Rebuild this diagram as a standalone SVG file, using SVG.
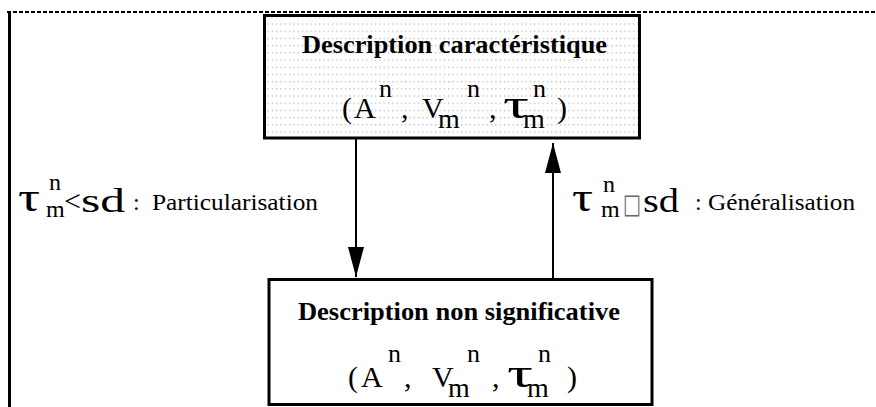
<svg xmlns="http://www.w3.org/2000/svg" width="876" height="407" viewBox="0 0 876 407">
<style>
.t{font-family:"Liberation Serif","Times New Roman","DejaVu Serif",serif;fill:#000}
.b{font-weight:bold;font-size:26px}
.big{font-size:30px}
.sup{font-size:26px}
.sub{font-size:28px}
.lsup{font-size:24px}
.lsub{font-size:24px}
.tau{font-size:42px}
.lab{font-size:24px}
.sd{font-size:34px}
.box{stroke:#000;stroke-width:3}
.conn{stroke:#000;stroke-width:2;fill:none}
</style>
<defs>
<pattern id="dots" patternUnits="userSpaceOnUse" width="4.3" height="7.2">
<rect x="1" y="2" width="1" height="1" fill="#8a8a8a"/>
</pattern>
<marker id="ah" viewBox="0 0 30 16" refX="30" refY="8" markerWidth="30" markerHeight="16" markerUnits="userSpaceOnUse" orient="auto">
<path d="M0,0 L30,8 L0,16 z" fill="#000"/>
</marker>
</defs>
<rect width="876" height="407" fill="#fff"/>
<g id="frame">
<line x1="7" y1="12" x2="876" y2="12" stroke="#000" stroke-width="2" stroke-dasharray="4 2"/>
<line x1="9.5" y1="11" x2="9.5" y2="407" stroke="#000" stroke-width="3"/>
</g>
<g id="node-caracteristique">
<rect class="box" x="264.5" y="15.5" width="375" height="122.5" fill="#fff"/>
<rect x="266" y="17" width="372" height="119.5" fill="url(#dots)"/>
<text class="t b" x="302" y="53" textLength="305" lengthAdjust="spacingAndGlyphs">Description caractéristique</text>
<text class="t big" x="342" y="118">(</text>
<text class="t big" x="354" y="118">A</text>
<text class="t sup" x="379" y="97">n</text>
<text class="t big" x="401" y="118">,</text>
<text class="t big" x="422" y="118">V</text>
<text class="t sub" x="438" y="128">m</text>
<text class="t sup" x="467" y="97">n</text>
<text class="t big" x="489" y="118">,</text>
<text class="t tau" x="503" y="118" textLength="26" lengthAdjust="spacingAndGlyphs">τ</text>
<text class="t sub" x="523" y="128">m</text>
<text class="t sup" x="533" y="97">n</text>
<text class="t big" x="557" y="118">)</text>
</g>
<g id="node-non-significative">
<rect class="box" x="269" y="279.5" width="383" height="125" fill="#fff"/>
<text class="t b" x="298" y="320" textLength="322" lengthAdjust="spacingAndGlyphs">Description non significative</text>
<text class="t big" x="348" y="387">(</text>
<text class="t big" x="361" y="387">A</text>
<text class="t sup" x="388" y="362">n</text>
<text class="t big" x="404" y="387">,</text>
<text class="t big" x="432" y="387">V</text>
<text class="t sub" x="448" y="397">m</text>
<text class="t sup" x="467" y="362">n</text>
<text class="t big" x="492" y="387">,</text>
<text class="t tau" x="507" y="387" textLength="26" lengthAdjust="spacingAndGlyphs">τ</text>
<text class="t sub" x="527" y="397">m</text>
<text class="t sup" x="538" y="362">n</text>
<text class="t big" x="567" y="387">)</text>
</g>
<g id="connectors">
<line class="conn" x1="356" y1="139" x2="356" y2="277" marker-end="url(#ah)"/>
<line class="conn" x1="553" y1="279" x2="553" y2="143" marker-end="url(#ah)"/>
</g>
<g id="label-particularisation">
<text class="t tau" x="18" y="211" textLength="22" lengthAdjust="spacingAndGlyphs">τ</text>
<text class="t lsup" x="49" y="190">n</text>
<text class="t lsub" x="46" y="217">m</text>
<text class="t big" x="64" y="211">&lt;</text>
<text class="t sd" x="81" y="212" textLength="44" lengthAdjust="spacingAndGlyphs">sd</text>
<text class="t lab" x="133" y="210">:</text>
<text class="t lab" x="152" y="210" textLength="166" lengthAdjust="spacingAndGlyphs">Particularisation</text>
</g>
<g id="label-generalisation">
<text class="t tau" x="572" y="211" textLength="21" lengthAdjust="spacingAndGlyphs">τ</text>
<text class="t lsup" x="603" y="192">n</text>
<text class="t lsub" x="601" y="217">m</text>
<text x="623" y="213" font-family="DejaVu Sans,sans-serif" font-size="27" fill="#666" textLength="18" lengthAdjust="spacingAndGlyphs">□</text>
<text class="t sd" x="643" y="212" textLength="36" lengthAdjust="spacingAndGlyphs">sd</text>
<text class="t lab" x="695" y="210">:</text>
<text class="t lab" x="708" y="210" textLength="147" lengthAdjust="spacingAndGlyphs">Généralisation</text>
</g>
</svg>
